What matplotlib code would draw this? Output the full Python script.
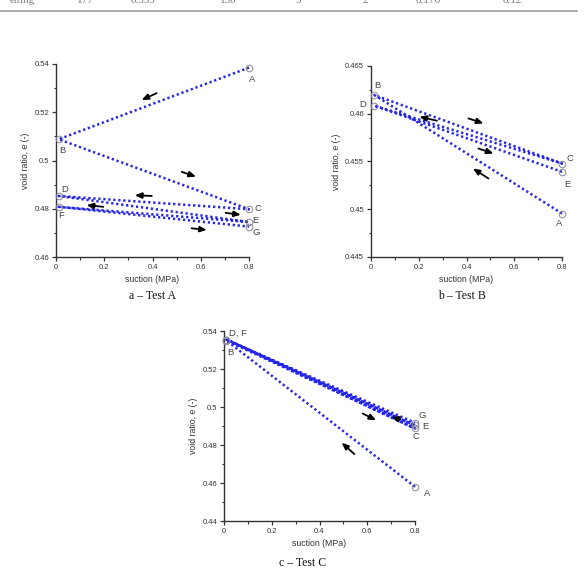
import matplotlib
matplotlib.use("Agg")
import matplotlib.pyplot as plt
from matplotlib.ticker import MultipleLocator, FuncFormatter

plt.rcParams['font.family'] = ['Liberation Sans', 'DejaVu Sans']

# ---- data ----
# Test A: path A -> B -> C -> D -> E -> F -> G
a_names = ['A', 'B', 'C', 'D', 'E', 'F', 'G']
a_suction = [0.8, 0.011, 0.8, 0.011, 0.8, 0.011, 0.8]
a_void = [0.5385, 0.5088, 0.4798, 0.4853, 0.4745, 0.4808, 0.4726]
a_label_xy = [(0.815, 0.5334), (0.028, 0.5043), (0.839, 0.4802), (0.037, 0.4880),
              (0.825, 0.4753), (0.023, 0.4774), (0.829, 0.4701)]
a_arrows = [(0.417, 0.5279, 0.355, 0.5251), (0.521, 0.4953, 0.580, 0.4933),
            (0.397, 0.4853, 0.327, 0.4856), (0.196, 0.4808, 0.127, 0.4815),
            (0.703, 0.4783, 0.766, 0.4775), (0.562, 0.4719, 0.625, 0.4712)]

# Test B: path A -> B -> C -> D -> E
b_names = ['A', 'B', 'C', 'D', 'E']
b_suction = [0.8, 0.014, 0.8, 0.014, 0.8]
b_void = [0.44955, 0.46196, 0.45479, 0.46084, 0.45392]
b_label_xy = [(0.79, 0.4485), (0.027, 0.4630), (0.835, 0.4553), (-0.035, 0.4610),
              (0.824, 0.4526)]
b_arrows = [(0.408, 0.45951, 0.471, 0.45899), (0.276, 0.45927, 0.203, 0.45969),
            (0.450, 0.45636, 0.513, 0.45584), (0.492, 0.45322, 0.427, 0.45427)]

# Test C: path A -> B -> C -> D -> E -> F -> G
c_names = ['A', 'B', 'C', 'D', 'E', 'F', 'G']
c_suction = [0.8, 0.01, 0.8, 0.01, 0.8, 0.01, 0.8]
c_void = [0.458, 0.535, 0.4887, 0.5355, 0.4903, 0.5355, 0.4917]
c_labels = ['A', 'B', 'C', 'D, F', 'E', 'G']
c_label_xy = [(0.849, 0.4545), (0.028, 0.5286), (0.804, 0.4847), (0.06, 0.5390),
              (0.842, 0.4896), (0.831, 0.4957)]
c_arrows = [(0.581, 0.49657, 0.637, 0.49306), (0.737, 0.49341, 0.702, 0.49482),
            (0.546, 0.4752, 0.493, 0.4812)]

W, H = 587, 571
fig = plt.figure(figsize=(W / 100, H / 100), dpi=100)


def px_axes(x0, x1, ytop, ybot):
    return fig.add_axes([x0 / W, 1 - ybot / H, (x1 - x0) / W, (ybot - ytop) / H])


def style(ax, ylim, ymaj):
    ax.set_xlim(0, 0.8)
    ax.set_ylim(*ylim)
    for s in ['top', 'right']:
        ax.spines[s].set_visible(False)
    for s in ['left', 'bottom']:
        ax.spines[s].set_color('#333333')
        ax.spines[s].set_linewidth(1.0)
    ax.xaxis.set_major_locator(MultipleLocator(0.2))
    ax.xaxis.set_minor_locator(MultipleLocator(0.1))
    ax.yaxis.set_major_locator(MultipleLocator(ymaj))
    ax.yaxis.set_minor_locator(MultipleLocator(ymaj / 2))
    fmt = FuncFormatter(lambda v, p: f'{round(v, 5):g}')
    ax.xaxis.set_major_formatter(fmt)
    ax.yaxis.set_major_formatter(fmt)
    ax.tick_params(which='major', length=3, width=0.9, labelsize=5.5,
                   colors='#333333', pad=2)
    ax.tick_params(which='minor', length=1.8, width=0.8, colors='#333333')
    ax.set_xlabel('suction (MPa)', fontsize=6.3, color='#333333', labelpad=3)
    ax.set_ylabel('void ratio, e (-)', fontsize=6.3, color='#333333', labelpad=3)


def draw(ax, xs, ys, labels, label_xy, arrows):
    ax.plot(xs, ys, color='#2626e8', linewidth=1.8, linestyle=(0, (0.9, 1.1)),
            clip_on=False, zorder=2)
    ax.plot(xs, ys, linestyle='none', marker='o', markersize=4.8,
            markerfacecolor='none', markeredgecolor='#8a8a9a',
            markeredgewidth=0.7, clip_on=False, zorder=3)
    for lab, (lx, ly) in zip(labels, label_xy):
        ax.text(lx, ly, lab, fontsize=6.8, color='#444444', ha='center',
                va='center', clip_on=False)
    for x0, y0, x1, y1 in arrows:
        ax.annotate('', xy=(x1, y1), xytext=(x0, y0),
                    arrowprops=dict(arrowstyle='-|>,head_length=0.4,head_width=0.17',
                                    color='black', lw=1.3, shrinkA=0, shrinkB=0))


ax_a = px_axes(56, 249, 64, 257)
style(ax_a, (0.46, 0.54), 0.02)
draw(ax_a, a_suction, a_void, a_names, a_label_xy, a_arrows)

ax_b = px_axes(371, 562, 66, 257)
style(ax_b, (0.445, 0.465), 0.005)
draw(ax_b, b_suction, b_void, b_names, b_label_xy, b_arrows)

ax_c = px_axes(224, 415, 331, 521)
style(ax_c, (0.44, 0.54), 0.02)
draw(ax_c, c_suction, c_void, c_labels, c_label_xy, c_arrows)

# captions
cap = dict(fontsize=8.5, family=['Liberation Serif', 'DejaVu Serif'],
           ha='center', va='center', color='#111111')
fig.text(153 / W, 1 - 296 / H, 'a – Test A', **cap)
fig.text(462 / W, 1 - 296 / H, 'b – Test B', **cap)
fig.text(303 / W, 1 - 563 / H, 'c – Test C', **cap)

# table row cut by the top edge of the page
row_text = ['etting', '177', '0.535', '150', '9', '2', '0.176', '0.12']
row_x = [22, 85, 143, 228, 298, 365, 428, 512]
for t, x in zip(row_text, row_x):
    fig.text(x / W, 1 - 5 / H, t, fontsize=8,
             family=['Liberation Serif', 'DejaVu Serif'], ha='center',
             va='bottom', color='#777777')
fig.add_artist(plt.Line2D([0, 577 / W], [1 - 11 / H, 1 - 11 / H],
                          color='#999999', linewidth=1.2))

fig.savefig('out.png', dpi=100)
